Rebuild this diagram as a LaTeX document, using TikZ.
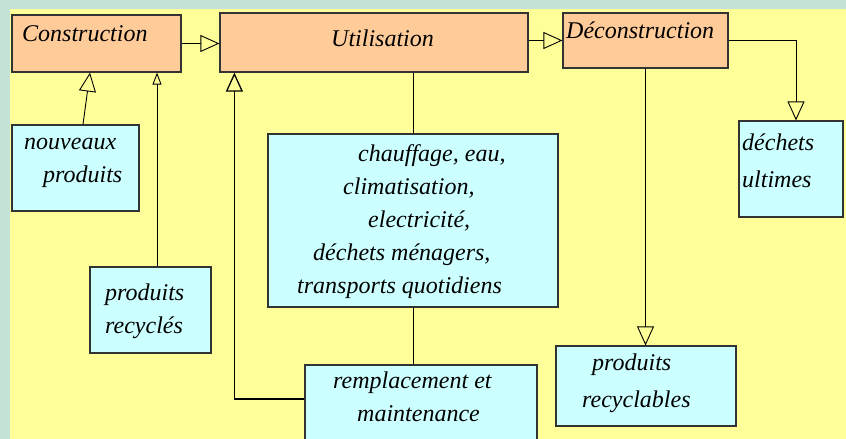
\documentclass[tikz,border=0pt]{standalone}
\usepackage{fontspec}
\setmainfont{Liberation Serif}
\usetikzlibrary{arrows.meta}
\definecolor{fond}{RGB}{255,255,153}
\definecolor{bord}{RGB}{196,226,214}
\definecolor{saumon}{RGB}{255,204,153}
\definecolor{ciel}{RGB}{204,255,255}

\begin{document}
\begin{tikzpicture}[x=1pt,y=-1pt,
	etape/.style={draw=black!80,line width=1.2pt,fill=saumon,inner sep=0pt},
	cadre/.style={draw=black!80,line width=1.2pt,fill=ciel,inner sep=0pt},
	txt/.style={font=\fontsize{24}{33}\selectfont\itshape,align=left,inner sep=0pt,anchor=base west},
	lien/.style={line width=0.9pt},
	fl/.style={lien,-{Triangle[open,length=19pt,width=17pt]}},
	petit/.style={lien,-{Triangle[open,length=12pt,width=9pt]}}]
		\useasboundingbox (0,0) rectangle (846,439);
		\clip (0,0) rectangle (846,439);
		\fill[bord] (0,0) rectangle (846,439);
		\fill[fond] (10,9) rectangle (846,439);

		% boites
		\node[etape,minimum width=169pt,minimum height=57pt] (constr) at (96.5,43.5) {};
		\node[etape,minimum width=308pt,minimum height=59pt] (util) at (374,42.5) {};
		\node[etape,minimum width=165pt,minimum height=55pt] (decon) at (645.5,40.5) {};
		\node[cadre,minimum width=127pt,minimum height=86pt] (nouv) at (75.5,168) {};
		\node[cadre,minimum width=121pt,minimum height=86pt] (recy) at (150.5,310) {};
		\node[cadre,minimum width=290pt,minimum height=173pt] (usage) at (413,220.5) {};
		\node[cadre,minimum width=232pt,minimum height=80pt] (rempl) at (421,405) {};
		\node[cadre,minimum width=180pt,minimum height=80pt] (recyb) at (646,386) {};
		\node[cadre,minimum width=104pt,minimum height=96pt] (ultim) at (791,169) {};

		% textes (ancre sur la derniere ligne)
		\node[txt] (t-constr) at (22,41) {Construction};
		\node[txt] (t-util) at (331,46) {Utilisation};
		\node[txt] (t-decon) at (566,38) {Déconstruction};
		\node[txt] (t-nouv) at (24,182) {nouveaux\\\hspace*{19pt}produits};
		\node[txt] (t-recy) at (105,333) {produits\\recyclés};
		\node[txt] (t-usage) at (297,293) {\hspace*{61pt}chauffage, eau,\\\hspace*{46pt}climatisation,\\\hspace*{71pt}electricité,\\\hspace*{16pt}déchets ménagers,\\transports quotidiens};
		\node[txt] (t-rempl) at (333,421) {remplacement et\\\hspace*{24pt}maintenance};
		\node[txt,font=\fontsize{24}{37}\selectfont\itshape] (t-recyb) at (582,407) {\hspace*{10pt}produits\\recyclables};
		\node[txt,font=\fontsize{24}{37}\selectfont\itshape] (t-ultim) at (742,187) {déchets\\ultimes};

		% liens
		\draw[fl] (constr.east) -- (constr.east -| util.west);
		\draw[fl] (decon.west -| util.east) -- (decon.west);
		\draw[fl] ([xshift=7.5pt]nouv.north) -- ([xshift=-6.5pt]constr.south);
		\draw[petit] ([xshift=6.5pt]recy.north) -- ([xshift=6.5pt]recy.north |- constr.south);
		\draw[fl,line width=1.3pt] ([yshift=6pt]rempl.west) -| ([xshift=15pt]util.south west);
		\draw[lien] (usage.north) -- (usage.north |- util.south);
		\draw[lien] (usage.south) -- (usage.south |- rempl.north);
		\draw[fl] (decon.south) -- (decon.south |- recyb.north);
		\draw[fl] (decon.east) -| ([xshift=5pt]ultim.north);
	\end{tikzpicture}
\end{document}
